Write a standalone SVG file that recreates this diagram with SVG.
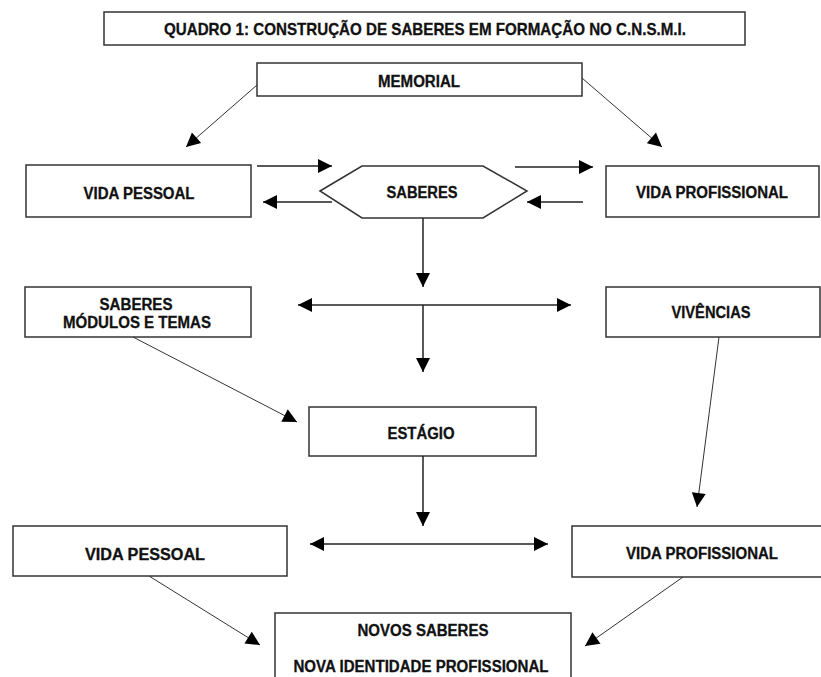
<svg xmlns="http://www.w3.org/2000/svg" width="821" height="677" viewBox="0 0 821 677">
<style>
.box{fill:#fff;stroke:#333;stroke-width:1.5}
.t{font-family:"Liberation Sans",Arial,sans-serif;font-weight:bold;font-size:16px;fill:#111;stroke:#111;stroke-width:0.3;text-anchor:middle}
.tt{font-size:17px}
.c{fill:none;stroke:#222;stroke-width:1.5}
.d{fill:none;stroke:#333;stroke-width:1}
</style>
<defs>
<marker id="ah" markerUnits="userSpaceOnUse" markerWidth="16" markerHeight="16" viewBox="0 0 16 16" refX="15" refY="8" orient="auto">
<path d="M1,1 L15,8 L1,15 Z" fill="#000"/>
</marker>
<marker id="as" markerUnits="userSpaceOnUse" markerWidth="16" markerHeight="16" viewBox="0 0 16 16" refX="1" refY="8" orient="auto">
<path d="M15,1 L1,8 L15,15 Z" fill="#000"/>
</marker>
</defs>
<rect width="821" height="677" fill="#fff"/>

<g id="title">
<rect class="box" x="104" y="12" width="641" height="33"/>
<text class="t tt" x="425" y="35" textLength="522" lengthAdjust="spacingAndGlyphs">QUADRO 1: CONSTRUÇÃO DE SABERES EM FORMAÇÃO NO C.N.S.M.I.</text>
</g>

<g id="memorial">
<rect class="box" x="257" y="63" width="325" height="33"/>
<text class="t" x="419" y="87" textLength="82" lengthAdjust="spacingAndGlyphs">MEMORIAL</text>
</g>

<g id="vida-pessoal-1">
<rect class="box" x="26" y="165" width="225" height="52"/>
<text class="t" x="139" y="199" textLength="111" lengthAdjust="spacingAndGlyphs">VIDA PESSOAL</text>
</g>

<g id="saberes">
<polygon class="box" points="320,191 362,166 483,166 527,191 483,218 362,218"/>
<text class="t" x="422" y="198" textLength="71" lengthAdjust="spacingAndGlyphs">SABERES</text>
</g>

<g id="vida-profissional-1">
<rect class="box" x="606" y="166" width="213" height="51"/>
<text class="t" x="712" y="198" textLength="152" lengthAdjust="spacingAndGlyphs">VIDA PROFISSIONAL</text>
</g>

<g id="saberes-modulos">
<rect class="box" x="25" y="287" width="226" height="50"/>
<text class="t" x="136" y="310" textLength="73" lengthAdjust="spacingAndGlyphs">SABERES</text>
<text class="t" x="137" y="328" textLength="148" lengthAdjust="spacingAndGlyphs">MÓDULOS E TEMAS</text>
</g>

<g id="vivencias">
<rect class="box" x="606" y="287" width="214" height="50"/>
<text class="t" x="711" y="318" textLength="79" lengthAdjust="spacingAndGlyphs">VIVÊNCIAS</text>
</g>

<g id="estagio">
<rect class="box" x="309" y="407" width="227" height="49"/>
<text class="t" x="421" y="439" textLength="67" lengthAdjust="spacingAndGlyphs">ESTÁGIO</text>
</g>

<g id="vida-pessoal-2">
<rect class="box" x="13" y="526" width="274" height="50"/>
<text class="t" x="145" y="560" textLength="120" lengthAdjust="spacingAndGlyphs">VIDA PESSOAL</text>
</g>

<g id="vida-profissional-2">
<rect class="box" x="572" y="526" width="260" height="51"/>
<text class="t" x="702" y="559" textLength="152" lengthAdjust="spacingAndGlyphs">VIDA PROFISSIONAL</text>
</g>

<g id="novos-saberes">
<rect class="box" x="275" y="613" width="296" height="80"/>
<text class="t" x="423" y="636" textLength="131" lengthAdjust="spacingAndGlyphs">NOVOS SABERES</text>
<text class="t" x="421" y="672" textLength="255" lengthAdjust="spacingAndGlyphs">NOVA IDENTIDADE PROFISSIONAL</text>
</g>

<g id="connectors">
<line class="d" x1="257" y1="85" x2="186" y2="147" marker-end="url(#ah)"/>
<line class="d" x1="582" y1="78" x2="662" y2="147" marker-end="url(#ah)"/>
<line class="c" x1="257" y1="166" x2="332" y2="166" marker-end="url(#ah)"/>
<line class="c" x1="332" y1="202" x2="263" y2="202" marker-end="url(#ah)"/>
<line class="c" x1="515" y1="167" x2="593" y2="167" marker-end="url(#ah)"/>
<line class="c" x1="583" y1="202" x2="527" y2="202" marker-end="url(#ah)"/>
<line class="c" x1="423" y1="218" x2="423" y2="287" marker-end="url(#ah)"/>
<line class="c" x1="298" y1="305" x2="571" y2="305" marker-start="url(#as)" marker-end="url(#ah)"/>
<line class="c" x1="423" y1="305" x2="423" y2="372" marker-end="url(#ah)"/>
<line class="d" x1="133" y1="337" x2="297" y2="422" marker-end="url(#ah)"/>
<line class="d" x1="719" y1="337" x2="697" y2="507" marker-end="url(#ah)"/>
<line class="c" x1="423" y1="456" x2="423" y2="526" marker-end="url(#ah)"/>
<line class="c" x1="310" y1="544" x2="548" y2="544" marker-start="url(#as)" marker-end="url(#ah)"/>
<line class="d" x1="149" y1="576" x2="260" y2="645" marker-end="url(#ah)"/>
<line class="d" x1="683" y1="577" x2="585" y2="646" marker-end="url(#ah)"/>
</g>
</svg>
